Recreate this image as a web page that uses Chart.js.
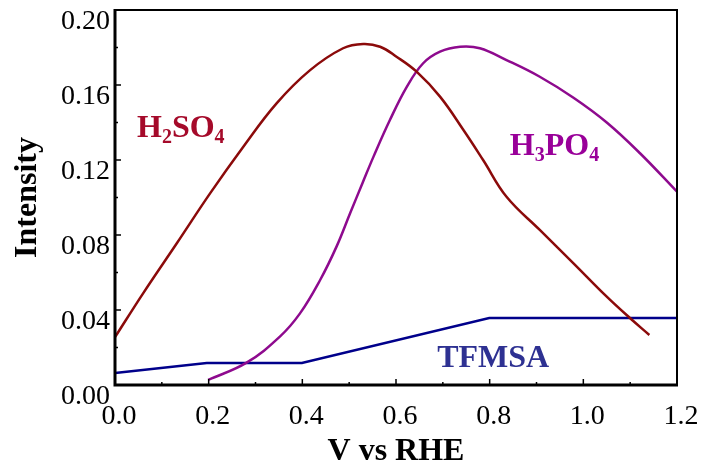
<!DOCTYPE html>
<html>
<head>
<meta charset="utf-8">
<script src="https://cdn.jsdelivr.net/npm/chart.js@4.4.1/dist/chart.umd.min.js"></script>
<style>
html,body{margin:0;padding:0;background:#fff;}
#wrap{width:702px;height:468px;}
</style>
</head>
<body>
<div id="wrap"><canvas id="c" width="702" height="468"></canvas></div>
<script>
// ---- data ----
const h2so4X = [0, 0.060, 0.132, 0.203, 0.274, 0.345, 0.416, 0.487, 0.530, 0.566, 0.601, 0.644, 0.694, 0.744, 0.786, 0.836, 0.907, 0.979, 1.050, 1.100, 1.141];
const h2so4Y = [0.0255, 0.0489, 0.0756, 0.1022, 0.1271, 0.1502, 0.1678, 0.1796, 0.1819, 0.1804, 0.1751, 0.1671, 0.1538, 0.136, 0.12, 0.1004, 0.0827, 0.0649, 0.0471, 0.0356, 0.0267];

const h3po4X = [0.199, 0.281, 0.352, 0.395, 0.438, 0.473, 0.502, 0.529, 0.552, 0.587, 0.623, 0.658, 0.694, 0.737, 0.779, 0.836, 0.907, 0.979, 1.050, 1.121, 1.2];
const h3po4Y = [0.0027, 0.0119, 0.0258, 0.0382, 0.056, 0.0738, 0.0916, 0.108, 0.1218, 0.1413, 0.159, 0.1716, 0.1778, 0.1804, 0.1796, 0.1733, 0.1644, 0.1532, 0.1400, 0.1236, 0.1031];

const tfmsaX = [0, 0.196, 0.399, 0.799, 1.2];
const tfmsaY = [0.0064, 0.0117, 0.0117, 0.0357, 0.0357];

const xTickValues = [0, 0.2, 0.4, 0.6, 0.8, 1.0, 1.2];
const yTickValues = [0, 0.04, 0.08, 0.12, 0.16, 0.20];

// in-plot labels: [main, sub, main, sub], anchor in data units
const seriesLabels = [
  {parts: ['H', '2', 'SO', '4'], x: 0.047, y: 0.1323, color: '#a50a2a'},
  {parts: ['H', '3', 'PO', '4'], x: 0.843, y: 0.1227, color: '#990099'},
  {parts: ['TFMSA'], x: 0.688, y: 0.0096, color: '#2e3192'}
];

const toPts = (xs, ys) => xs.map((x, i) => ({x: x, y: ys[i]}));

const framePlugin = {
  id: 'frame',
  afterDatasetsDraw(chart) {
    const {ctx, chartArea: a, scales: {x, y}} = chart;
    ctx.save();
    ctx.strokeStyle = '#000';
    ctx.lineWidth = 2;
    ctx.beginPath();
    ctx.moveTo(a.left, a.top);
    ctx.lineTo(a.right, a.top);
    ctx.lineTo(a.right, a.bottom);
    ctx.stroke();
    ctx.lineWidth = 3;
    ctx.beginPath();
    ctx.moveTo(a.left, a.top - 1);
    ctx.lineTo(a.left, a.bottom);
    ctx.lineTo(a.right + 1, a.bottom);
    ctx.stroke();
    ctx.lineWidth = 1.5;
    ctx.beginPath();
    for (let i = 1; i < 10; i++) {
      const py = y.getPixelForValue(i * 0.02);
      const len = (i % 2 === 0) ? 6 : 3;
      ctx.moveTo(a.left, py);
      ctx.lineTo(a.left + len, py);
    }
    for (let i = 1; i < 12; i++) {
      const px = x.getPixelForValue(i * 0.1);
      const len = (i % 2 === 0) ? 6 : 3;
      ctx.moveTo(px, a.bottom);
      ctx.lineTo(px, a.bottom - len);
    }
    ctx.stroke();
    seriesLabels.forEach(l => {
      let px = x.getPixelForValue(l.x);
      const py = y.getPixelForValue(l.y);
      ctx.fillStyle = l.color;
      ctx.textBaseline = 'alphabetic';
      ctx.textAlign = 'left';
      l.parts.forEach((p, i) => {
        const sub = i % 2 === 1;
        ctx.font = 'bold ' + (sub ? 20 : 32) + 'px "Liberation Serif"';
        ctx.fillText(p, px, py + (sub ? 6 : 0));
        px += ctx.measureText(p).width;
      });
    });
    ctx.restore();
  }
};

new Chart(document.getElementById('c'), {
  type: 'line',
  data: {
    datasets: [
      {label: 'H2SO4', data: toPts(h2so4X, h2so4Y), borderColor: '#8b0a0a', borderWidth: 2.5, pointRadius: 0, tension: 0.4, fill: false},
      {label: 'H3PO4', data: toPts(h3po4X, h3po4Y), borderColor: '#8e0a8e', borderWidth: 2.5, pointRadius: 0, tension: 0.4, fill: false},
      {label: 'TFMSA', data: toPts(tfmsaX, tfmsaY), borderColor: '#00008b', borderWidth: 2.5, pointRadius: 0, tension: 0, fill: false}
    ]
  },
  options: {
    responsive: false,
    animation: false,
    layout: {padding: {top: 10, right: 25, left: 0, bottom: 0}},
    plugins: {legend: {display: false}, tooltip: {enabled: false}},
    scales: {
      x: {
        type: 'linear', min: 0, max: 1.2,
        afterBuildTicks(s) { s.ticks = xTickValues.map(v => ({value: v})); },
        afterFit(s) { s.height = 83; s.paddingLeft = 0; s.paddingRight = 0; },
        grid: {display: false, drawTicks: false},
        border: {display: false},
        ticks: {
          autoSkip: false, maxRotation: 0, padding: 15, labelOffset: 4,
          color: '#000', font: {family: '"Liberation Serif"', size: 28},
          callback: v => Number(v).toFixed(1)
        },
        title: {display: true, text: 'V vs RHE', color: '#000', padding: {top: 0, bottom: 0},
          font: {family: '"Liberation Serif"', size: 32, weight: 'bold', lineHeight: 1}}
      },
      y: {
        type: 'linear', min: 0, max: 0.2,
        afterBuildTicks(s) { s.ticks = yTickValues.map(v => ({value: v})); },
        afterFit(s) { s.width = 115; s.paddingTop = 0; s.paddingBottom = 0; },
        grid: {display: false, drawTicks: false},
        border: {display: false},
        ticks: {
          autoSkip: false, padding: 5, labelOffset: 12,
          color: '#000', font: {family: '"Liberation Serif"', size: 28},
          callback: v => Number(v).toFixed(2)
        },
        title: {display: true, text: 'Intensity', color: '#000', padding: {top: 12, bottom: 0},
          font: {family: '"Liberation Serif"', size: 32, weight: 'bold', lineHeight: 1}}
      }
    }
  },
  plugins: [framePlugin]
});
</script>
</body>
</html>
